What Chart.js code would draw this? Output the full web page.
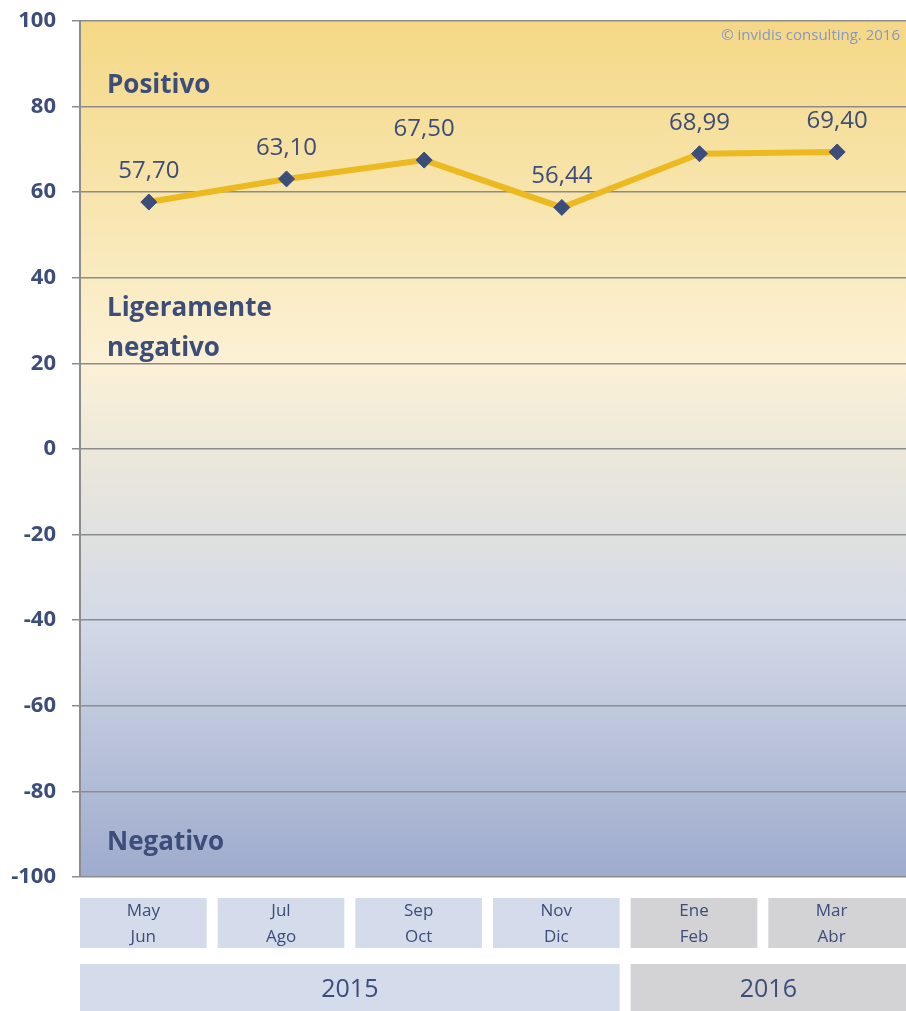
<!DOCTYPE html>
<html>
<head>
<meta charset="utf-8">
<script src="https://cdn.jsdelivr.net/npm/chart.js@4/dist/chart.umd.min.js"></script>
<style>
  html, body { margin: 0; padding: 0; background: #ffffff; overflow: hidden; }
  #wrap { width: 906px; height: 1011px; position: relative; }
  canvas { display: block; }
</style>
</head>
<body>
<div id="wrap"><canvas id="sentChart"></canvas></div>
<script>
// chart data
const periods = [["May", "Jun"], ["Jul", "Ago"], ["Sep", "Oct"], ["Nov", "Dic"], ["Ene", "Feb"], ["Mar", "Abr"]];
const periodYears = ["2015", "2015", "2015", "2015", "2016", "2016"];
const sentiment = [57.70, 63.10, 67.50, 56.44, 68.99, 69.40];
const yTicks = [100, 80, 60, 40, 20, 0, -20, -40, -60, -80, -100];
const zoneNames = [["Positivo"], ["Ligeramente", "negativo"], ["Negativo"]];
const zoneValues = [84.8, 28.1, -92];
const creditText = "\u00a9 invidis consulting. 2016";

const TEXT = "#3c4d7a";
const FONT = "'Open Sans', 'Noto Sans', sans-serif";
const yearFill = { "2015": "#d4dbea", "2016": "#d3d3d5" };

function fmt(v) {
  return v.toFixed(2).replace(".", ",");
}

// gradient background behind the plot
const bgPlugin = {
  id: "bgPlugin",
  beforeDraw(chart) {
    const { ctx, chartArea: a } = chart;
    const g = ctx.createLinearGradient(0, a.top, 0, a.bottom);
    g.addColorStop(0, "#f4d886");
    g.addColorStop(0.22, "#f8e6b0");
    g.addColorStop(0.4, "#fcf1d6");
    g.addColorStop(0.5, "#ece8da");
    g.addColorStop(0.7, "#d3d9e7");
    g.addColorStop(1, "#9eabcd");
    ctx.save();
    ctx.fillStyle = g;
    ctx.fillRect(a.left, a.top, a.right - a.left, a.bottom - a.top);
    ctx.restore();
  }
};

// zone labels, value labels, credit and the category boxes
const textPlugin = {
  id: "textPlugin",
  afterDatasetsDraw(chart) {
    const { ctx, chartArea: a } = chart;
    const y = chart.scales.y;
    ctx.save();

    // zone names
    ctx.fillStyle = TEXT;
    ctx.font = "bold 26px " + FONT;
    ctx.textAlign = "left";
    ctx.textBaseline = "middle";
    zoneNames.forEach((lines, i) => {
      const cy = y.getPixelForValue(zoneValues[i]);
      lines.forEach((t, j) => ctx.fillText(t, a.left + 27, cy + j * 40 - (lines.length - 1) * 20));
    });

    // value labels
    ctx.font = "24px " + FONT;
    ctx.textAlign = "center";
    const meta = chart.getDatasetMeta(0);
    meta.data.forEach((pt, i) => {
      ctx.fillText(fmt(sentiment[i]), pt.x, pt.y - 31);
    });

    // credit
    ctx.fillStyle = "#8797c4";
    ctx.font = "15px " + FONT;
    ctx.textAlign = "right";
    ctx.fillText(creditText, a.right - 6, a.top + 15);

    // category boxes
    const n = periods.length;
    const slot = (a.right - a.left) / n;
    const gap = 11;
    const rowTop = a.bottom + 21, rowH = 50;
    periods.forEach((p, i) => {
      const left = a.left + i * slot;
      const w = i === n - 1 ? slot : slot - gap;
      ctx.fillStyle = yearFill[periodYears[i]];
      ctx.fillRect(left, rowTop, w, rowH);
      ctx.fillStyle = TEXT;
      ctx.font = "17px " + FONT;
      ctx.textAlign = "center";
      const cx = left + (slot - gap) / 2;
      ctx.fillText(p[0], cx, rowTop + 13);
      ctx.fillText(p[1], cx, rowTop + 39);
    });

    // year boxes
    const yrTop = a.bottom + 87, yrH = 47;
    const years = [...new Set(periodYears)];
    years.forEach(yr => {
      const first = periodYears.indexOf(yr);
      const last = periodYears.lastIndexOf(yr);
      const left = a.left + first * slot;
      const right = a.left + (last + 1) * slot - (last === n - 1 ? 0 : gap);
      ctx.fillStyle = yearFill[yr];
      ctx.fillRect(left, yrTop, right - left, yrH);
      ctx.fillStyle = TEXT;
      ctx.font = "25px " + FONT;
      ctx.textAlign = "center";
      ctx.fillText(yr, (left + right) / 2, yrTop + 26);
    });

    ctx.restore();
  }
};

new Chart(document.getElementById("sentChart"), {
  type: "line",
  data: {
    labels: periods.map(p => p.join(" ")),
    datasets: [{
      data: sentiment,
      borderColor: "#ecb920",
      borderWidth: 6,
      tension: 0,
      pointStyle: "rectRot",
      pointRadius: 8,
      pointBackgroundColor: "#3b4d7a",
      pointBorderColor: "#3b4d7a",
      pointBorderWidth: 1
    }]
  },
  options: {
    responsive: true,
    maintainAspectRatio: false,
    animation: false,
    devicePixelRatio: 1,
    layout: { autoPadding: false, padding: { top: 21, right: 0, bottom: 134, left: 0 } },
    plugins: {
      legend: { display: false },
      tooltip: { enabled: false }
    },
    scales: {
      x: {
        type: "category",
        offset: true,
        display: false
      },
      y: {
        min: -100,
        max: 100,
        afterFit(scale) {
          scale.width = 80;
          scale.paddingTop = 0;
          scale.paddingBottom = 0;
        },
        afterBuildTicks(scale) {
          scale.ticks = yTicks.map(v => ({ value: v }));
        },
        border: { color: "#8c8c8c", width: 2 },
        grid: {
          color: "#8c8c8c",
          lineWidth: 1.5,
          drawTicks: true,
          tickLength: 8
        },
        ticks: {
          color: TEXT,
          padding: 16,
          font: { family: FONT, size: 22, weight: "bold" }
        }
      }
    }
  },
  plugins: [bgPlugin, textPlugin]
});
</script>
</body>
</html>
